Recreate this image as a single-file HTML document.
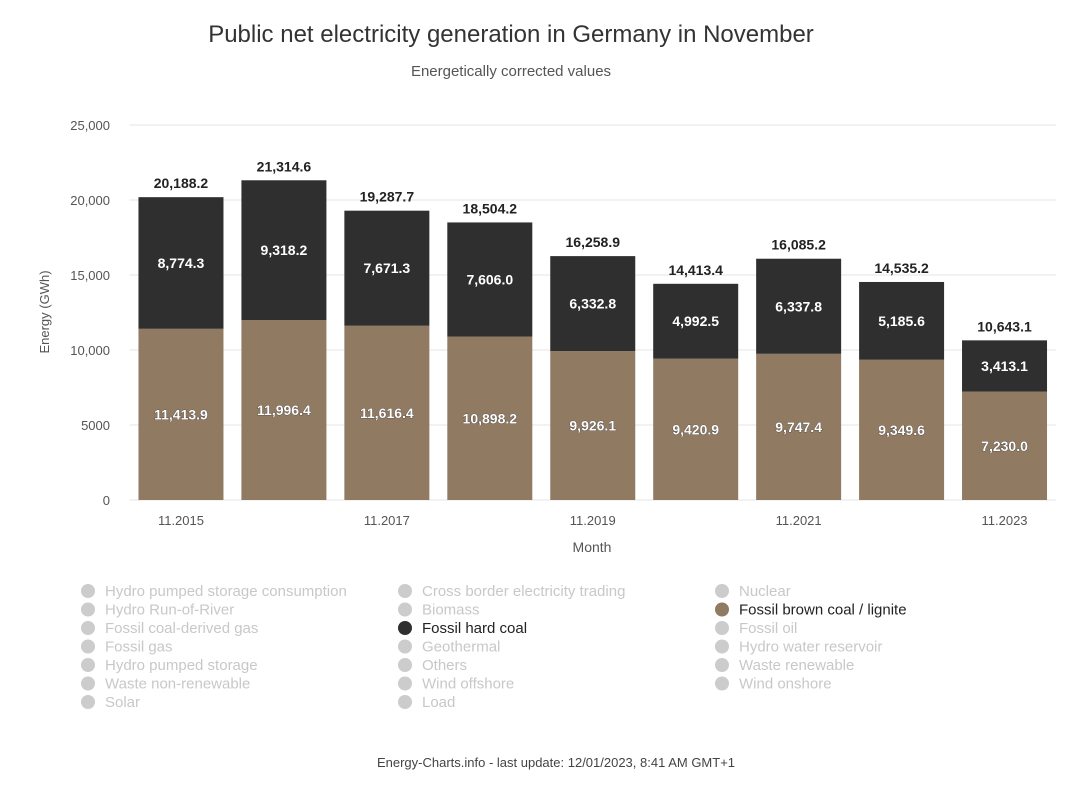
<!DOCTYPE html>
<html><head><meta charset="utf-8"><style>
body{margin:0;background:#fff;font-family:"Liberation Sans","DejaVu Sans",sans-serif}
svg text{font-family:"Liberation Sans","DejaVu Sans",sans-serif}
</style></head><body>
<svg id="chart" width="1079" height="790" viewBox="0 0 1079 790" xmlns="http://www.w3.org/2000/svg">
<text x="511" y="42" text-anchor="middle" font-size="24" fill="#333">Public net electricity generation in Germany in November</text>
<text x="511" y="76" text-anchor="middle" font-size="15" fill="#555">Energetically corrected values</text>
<g id="grid"></g>
<g id="bars"></g>
<g id="xaxis"></g>
<text x="592" y="552" text-anchor="middle" font-size="14" fill="#555">Month</text>
<text transform="translate(49,312) rotate(-90)" text-anchor="middle" font-size="13" fill="#555">Energy (GWh)</text>
<g id="legend"></g>
<text x="556" y="767" text-anchor="middle" font-size="13" fill="#444">Energy-Charts.info - last update: 12/01/2023, 8:41 AM GMT+1</text>
</svg>
<script>
const categories=["11.2015","11.2016","11.2017","11.2018","11.2019","11.2020","11.2021","11.2022","11.2023"];
const ligniteValues=[11413.9,11996.4,11616.4,10898.2,9926.1,9420.9,9747.4,9349.6,7230.0];
const hardCoalValues=[8774.3,9318.2,7671.3,7606.0,6332.8,4992.5,6337.8,5185.6,3413.1];
const totalValues=[20188.2,21314.6,19287.7,18504.2,16258.9,14413.4,16085.2,14535.2,10643.1];
const yTicks=[0,5000,10000,15000,20000,25000];
const yTickLabels=["0","5000","10,000","15,000","20,000","25,000"];
const legendItems=[["Hydro pumped storage consumption","Cross border electricity trading","Nuclear"],["Hydro Run-of-River","Biomass","Fossil brown coal / lignite"],["Fossil coal-derived gas","Fossil hard coal","Fossil oil"],["Fossil gas","Geothermal","Hydro water reservoir"],["Hydro pumped storage","Others","Waste renewable"],["Waste non-renewable","Wind offshore","Wind onshore"],["Solar","Load",null]];
const NS="http://www.w3.org/2000/svg";
const X0=129.5,X1=1056,Y0=500,Y1=125,YMAX=25000;
const band=(X1-X0)/categories.length, bw=85;
const y=v=>Y0-(v/YMAX)*(Y0-Y1);
const xc=i=>X0+band*(i+0.5);
const fmt=v=>v.toLocaleString("en-US",{minimumFractionDigits:1,maximumFractionDigits:1});
function mk(tag,attrs,parent,txt){const e=document.createElementNS(NS,tag);for(const k in attrs)e.setAttribute(k,attrs[k]);if(txt!=null)e.textContent=txt;parent.appendChild(e);return e;}
const grid=document.getElementById("grid"),bars=document.getElementById("bars"),xa=document.getElementById("xaxis"),lg=document.getElementById("legend");
yTicks.forEach((t,i)=>{
 const l=mk("line",{x1:X0,x2:X1,y1:y(t),y2:y(t),stroke:"#e6e6e6","stroke-width":1},grid);
 
 
 const tx=mk("text",{x:110,y:y(t)+5,"text-anchor":"end","font-size":13,fill:"#555"},grid,yTickLabels[i]);
 
 
});
categories.forEach((c,i)=>{
 const cx=xc(i),yl=y(ligniteValues[i]),yt=y(ligniteValues[i]+hardCoalValues[i]);
 const r1=mk("rect",{x:cx-bw/2,y:yl,width:bw,height:Y0-yl,fill:"#917a62"},bars);
 
 
 const r2=mk("rect",{x:cx-bw/2,y:yt,width:bw,height:yl-yt,fill:"#2f2f2f"},bars);
 
 
 const a=mk("text",{x:cx,y:(yl+Y0)/2+5,"text-anchor":"middle","font-size":14,"font-weight":"bold",fill:"#fff",stroke:"#333","stroke-width":0.6,"paint-order":"stroke"},bars,fmt(ligniteValues[i]));
 
 
 const b=mk("text",{x:cx,y:(yl+yt)/2+5,"text-anchor":"middle","font-size":14,"font-weight":"bold",fill:"#fff"},bars,fmt(hardCoalValues[i]));
 
 
 const t=mk("text",{x:cx,y:y(totalValues[i])-9,"text-anchor":"middle","font-size":14,"font-weight":"bold",fill:"#222"},bars,fmt(totalValues[i]));
 
 
 if(i%2===0){
  const xl=mk("text",{x:cx,y:525,"text-anchor":"middle","font-size":13,fill:"#555"},xa,c);
  
  
 }
});
const active={"Fossil brown coal / lignite":"#917a62","Fossil hard coal":"#2f2f2f"};
legendItems.forEach((row,r)=>row.forEach((name,col)=>{
 if(!name)return;
 const gx=88+col*317,gy=591+r*18.5;
 const g=mk("g",{},lg);
 
 
 mk("circle",{cx:gx,cy:gy,r:7,fill:active[name]||"#cccccc"},g);
 mk("text",{x:gx+17,y:gy+5,"font-size":15,fill:active[name]?"#222":"#c8c8c8"},g,name);
}));
</script>
</body></html>
